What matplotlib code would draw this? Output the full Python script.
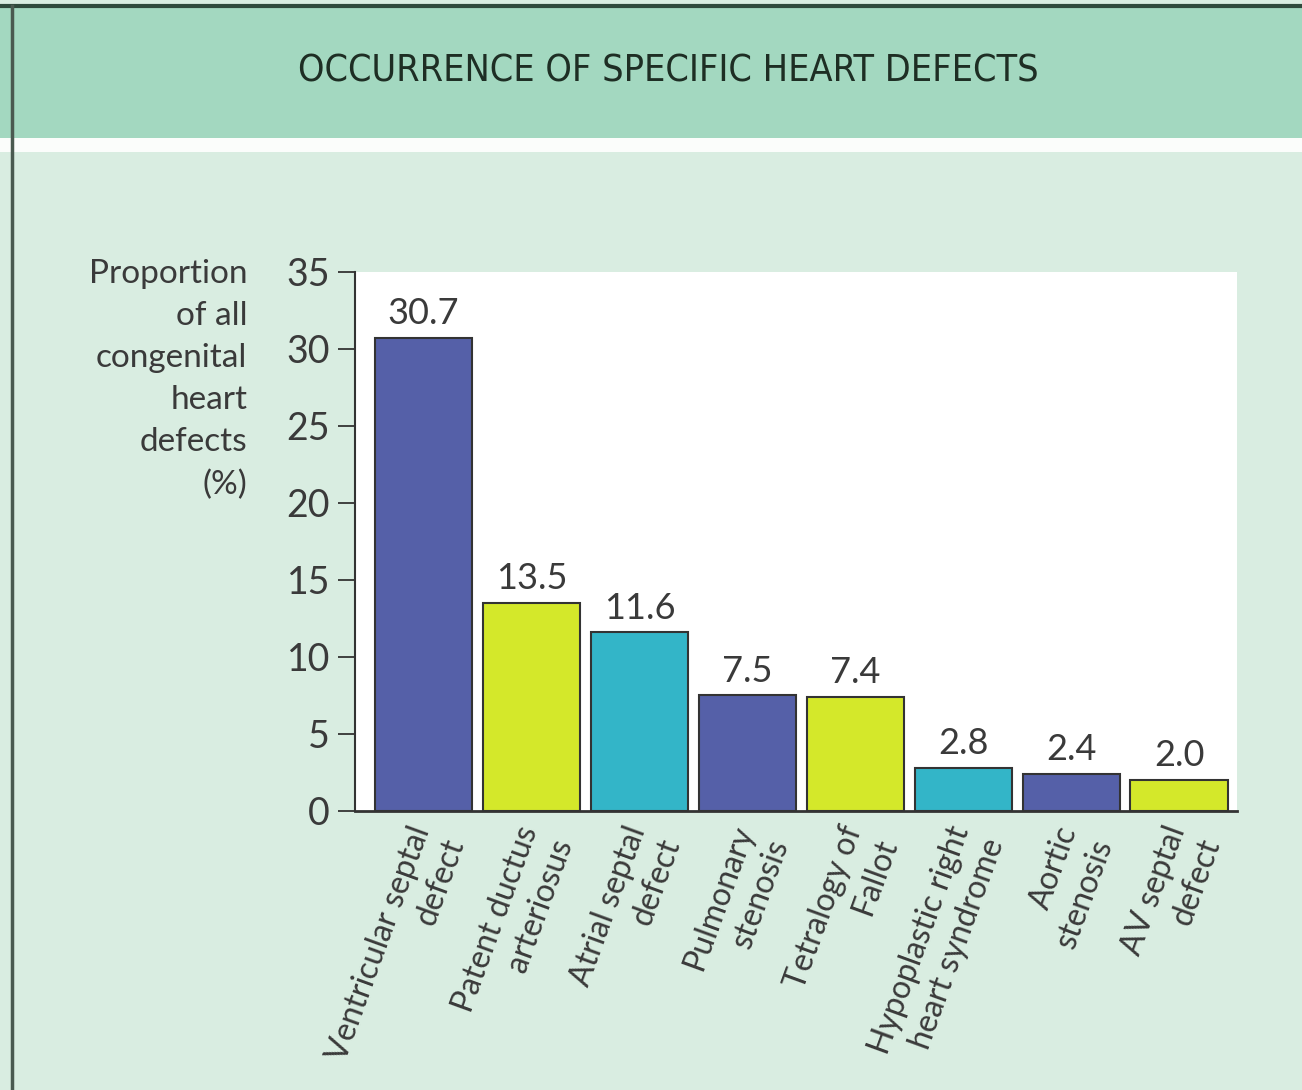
import numpy as np
import matplotlib.pyplot as plt
from matplotlib.patches import Rectangle
from matplotlib.lines import Line2D

# data
defects = ['Ventricular septal\ndefect', 'Patent ductus\narteriosus', 'Atrial septal\ndefect',
           'Pulmonary\nstenosis', 'Tetralogy of\nFallot', 'Hypoplastic right\nheart syndrome',
           'Aortic\nstenosis', 'AV septal\ndefect']
share = [30.7, 13.5, 11.6, 7.5, 7.4, 2.8, 2.4, 2.0]
bar_colors = ['#5560a8', '#d4e82a', '#33b5c8', '#5560a8', '#d4e82a', '#33b5c8', '#5560a8', '#d4e82a']
yticks = [0, 5, 10, 15, 20, 25, 30, 35]

txt = '#3a3a3a'
fam = ['Lato', 'DejaVu Sans']

fig = plt.figure(figsize=(13.02, 10.90), dpi=100)
fig.patch.set_facecolor('#d9ede1')

# header band + white strip
fig.patches.append(Rectangle((0.0, 0.8606), 1, 0.0124, transform=fig.transFigure,
                             facecolor='#fbfdfb', edgecolor='none', zorder=0))
fig.patches.append(Rectangle((0.0, 0.873), 1, 0.12, transform=fig.transFigure,
                             facecolor='#a3d8c0', edgecolor='none', zorder=0))
fig.lines.append(Line2D([0.0, 1], [0.9945, 0.9945], transform=fig.transFigure, color='#2f4a3c', lw=3))
fig.lines.append(Line2D([0.0095, 0.0095], [0, 0.9945], transform=fig.transFigure, color='#4a5a50', lw=2.5))

fig.text(0.513, 0.934, 'OCCURRENCE OF SPECIFIC HEART DEFECTS', ha='center', va='center',
         fontsize=27, color='#1e2e24', family='DejaVu Sans', fontstretch='condensed')

ax = fig.add_axes([0.2727, 0.2560, 0.6774, 0.4945])
ax.set_facecolor('white')
x = np.arange(len(share))
ax.bar(x, share, width=0.9, color=bar_colors, edgecolor='#333333', linewidth=1.5, zorder=3)
for xi, v in zip(x, share):
    ax.text(xi, v + 0.5, '%.1f' % v, ha='center', va='bottom', fontsize=26,
            color=txt, family=fam)

ax.set_xlim(-0.634, 7.537)
ax.set_ylim(0, 35)
ax.set_yticks(yticks)
ax.set_yticklabels([str(t) for t in yticks], fontsize=27, color=txt, family=fam)
ax.tick_params(axis='y', direction='out', length=12, width=1.3, color='#333333', pad=6)
ax.set_xticks(x - 0.15)
ax.set_xticklabels(defects, rotation=70, ha='right', va='top', rotation_mode='anchor',
                   multialignment='right', fontsize=23, color=txt, family=fam, linespacing=1.3)
ax.tick_params(axis='x', length=0, pad=8)
for s in ['top', 'right']:
    ax.spines[s].set_visible(False)
ax.spines['left'].set_color('#333333')
ax.spines['left'].set_linewidth(1.5)
ax.spines['bottom'].set_color('#333333')
ax.spines['bottom'].set_linewidth(2)

fig.text(0.19, 0.762, 'Proportion\nof all\ncongenital\nheart\ndefects\n(%)', ha='right', va='top',
         fontsize=24, color=txt, family=fam, linespacing=1.5)

plt.savefig('out.png', dpi=100, facecolor=fig.get_facecolor())
